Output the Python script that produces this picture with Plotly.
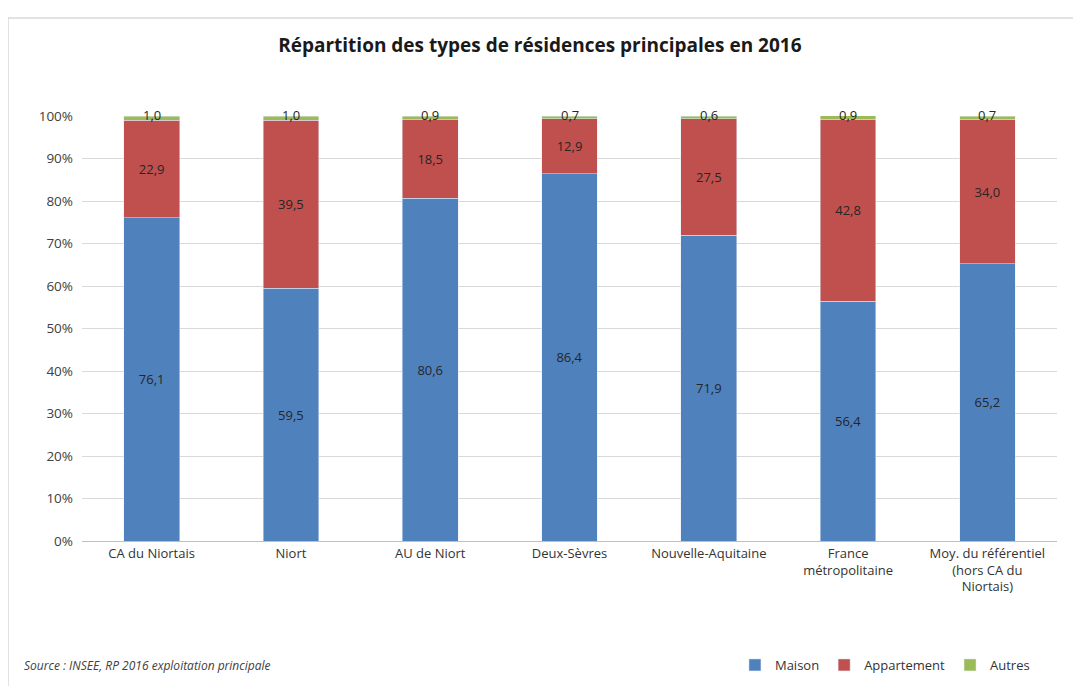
import plotly.graph_objects as go

categories = ["CA du Niortais", "Niort", "AU de Niort", "Deux-Sèvres", "Nouvelle-Aquitaine",
              "France<br>métropolitaine", "Moy. du référentiel<br>(hors CA du<br>Niortais)"]
maison = [76.1, 59.5, 80.6, 86.4, 71.9, 56.4, 65.2]
appartement = [22.9, 39.5, 18.5, 12.9, 27.5, 42.8, 34.0]
autres = [1.0, 1.0, 0.9, 0.7, 0.6, 0.9, 0.7]
yticks = [0, 10, 20, 30, 40, 50, 60, 70, 80, 90, 100]
yticklabels = [f"{v}%" for v in yticks]

FONT = "Liberation Sans Narrow, Open Sans, sans-serif"
txtcol = "#262626"

fig = go.Figure()
fig.add_trace(go.Bar(x=categories, y=maison, name="Maison", marker_color="#4f81bd",
                     texttemplate="%{y:.1f}", textposition="inside", insidetextanchor="middle",
                     textfont=dict(color=txtcol, size=13, family=FONT)))
fig.add_trace(go.Bar(x=categories, y=appartement, name="Appartement", marker_color="#c0504d",
                     texttemplate="%{y:.1f}", textposition="inside", insidetextanchor="middle",
                     textfont=dict(color=txtcol, size=13, family=FONT)))
fig.add_trace(go.Bar(x=categories, y=autres, name="Autres", marker_color="#9bbb59"))

for c, m, a, o in zip(categories, maison, appartement, autres):
    fig.add_annotation(x=c, y=min(m + a + o, 99.99), text=f"{o:.1f}".replace(".", ","), showarrow=False,
                       yshift=1, font=dict(color=txtcol, size=13, family=FONT))

fig.add_annotation(xref="paper", yref="paper", x=-0.0615, y=-0.292, xanchor="left", yanchor="middle",
                   text="<i>Source : INSEE, RP 2016 exploitation principale</i>", showarrow=False,
                   font=dict(size=12, color="#404040", family=FONT))

fig.add_shape(type="rect", xref="paper", yref="paper", x0=-0.0759, x1=1.2, y0=-0.5, y1=1.2306,
              line=dict(color="#d9d9d9", width=1.5), layer="below")

fig.update_layout(
    barmode="stack",
    bargap=0.6,
    separators=", ",
    width=1081, height=686,
    margin=dict(l=74, r=32, t=108, b=153),
    paper_bgcolor="white", plot_bgcolor="white",
    font=dict(family=FONT, size=13, color="#404040"),
    title=dict(text="<b>Répartition des types de résidences principales en 2016</b>",
               x=0.492, xref="container", xanchor="center", y=1 - 37 / 686, yanchor="middle",
               font=dict(size=19, color="#1a1a1a", family=FONT)),
    xaxis=dict(showline=True, linecolor="#bfbfbf", ticks="", tickfont=dict(size=13, color="#333333")),
    yaxis=dict(range=[0, 100], tickmode="array", tickvals=yticks, ticktext=yticklabels,
               showgrid=True, gridcolor="#d9d9d9", ticklabelstandoff=8,
               zeroline=False, ticks="", tickfont=dict(size=13.5, color="#404040")),
    legend=dict(orientation="h", xref="container", yref="container", x=0.95, xanchor="right",
                y=1 - 657 / 686, yanchor="middle",
                font=dict(size=13, color="#333333", family=FONT), itemwidth=30, traceorder="normal"),
    showlegend=True,
)

fig.write_html("out.html")
